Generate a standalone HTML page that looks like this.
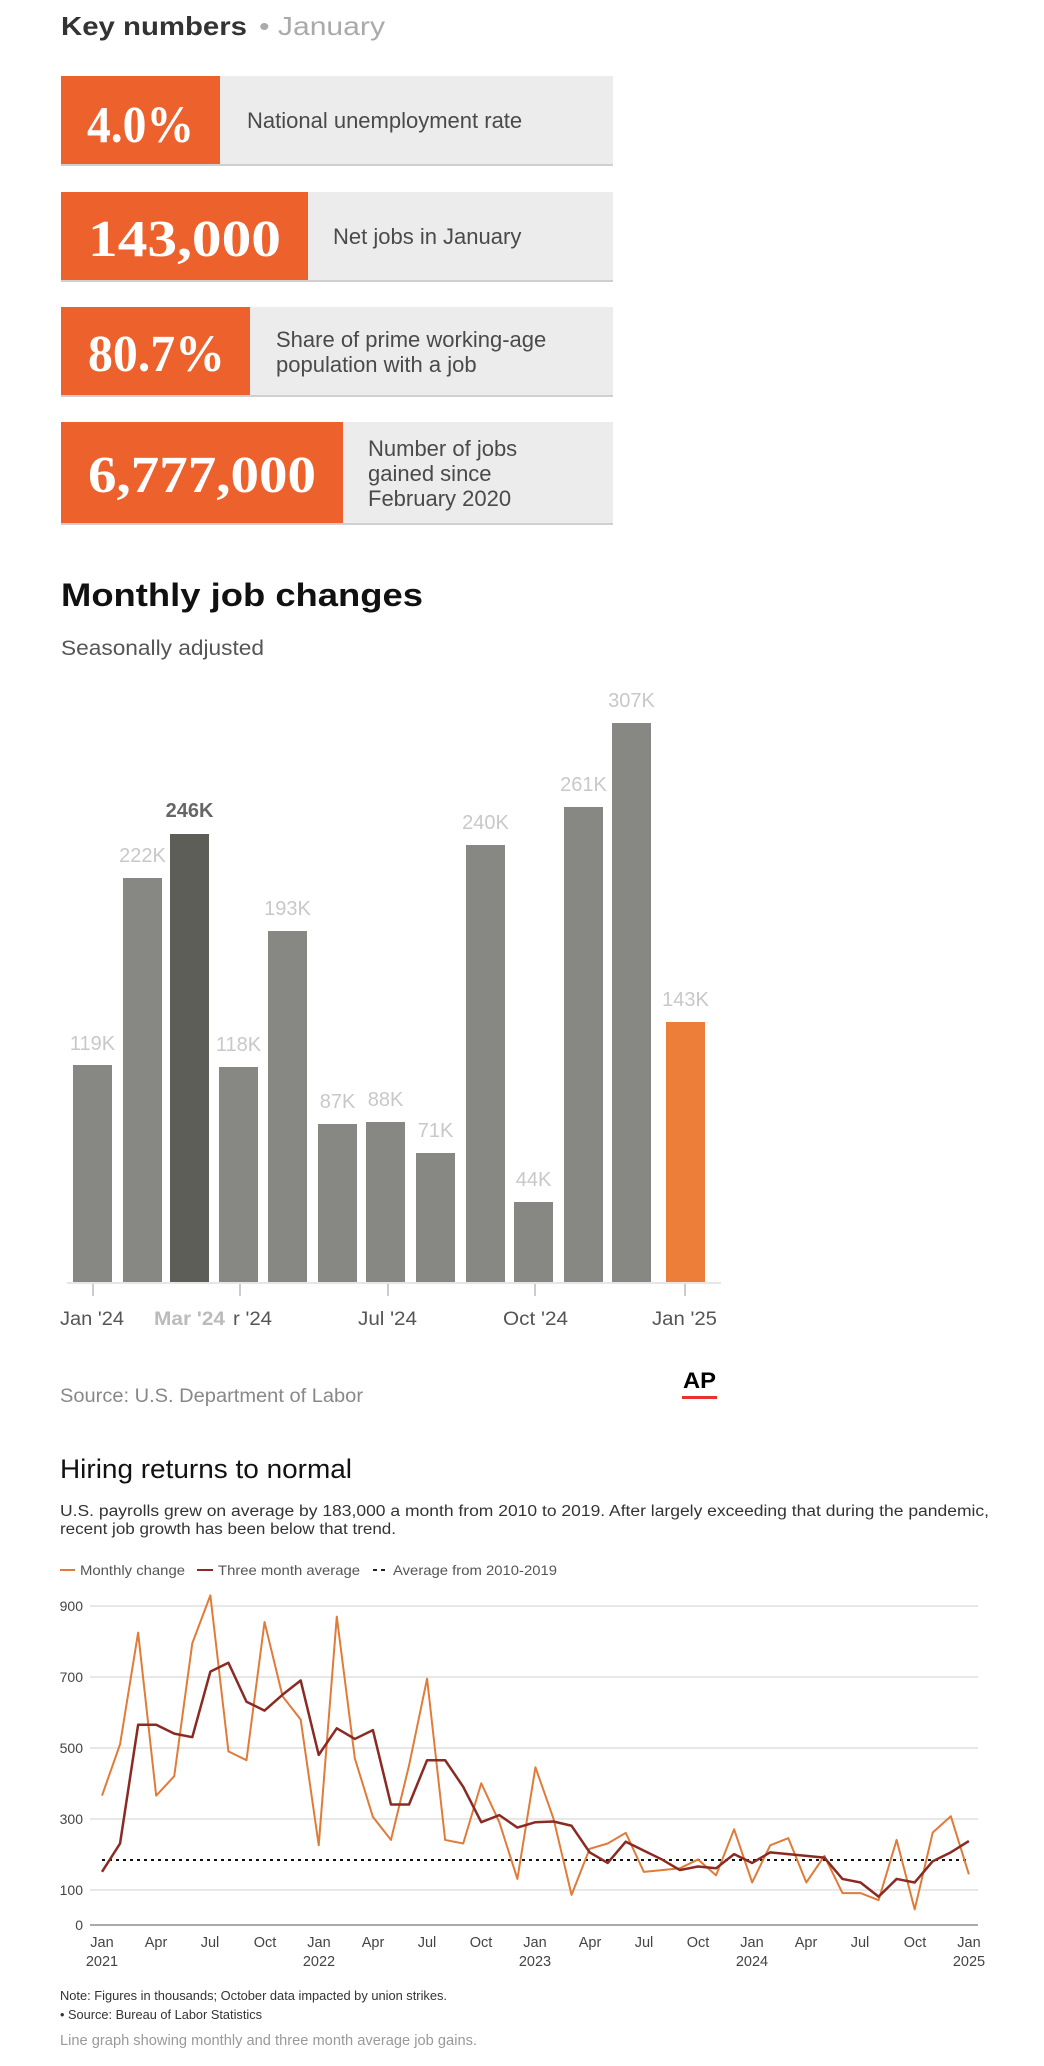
<!DOCTYPE html>
<html><head><meta charset="utf-8"><style>html,body{margin:0;padding:0;background:#fff}svg{display:block}</style></head>
<body>
<svg width="1044" height="2066" viewBox="0 0 1044 2066" xmlns="http://www.w3.org/2000/svg" font-family="Liberation Sans, sans-serif">
<rect width="1044" height="2066" fill="#fff"/>
<!-- Key numbers -->
<text x="61" y="35" font-size="26" font-weight="bold" fill="#333" textLength="186" lengthAdjust="spacingAndGlyphs">Key numbers</text>
<text x="259" y="35" font-size="26" fill="#aaa" textLength="126" lengthAdjust="spacingAndGlyphs">• January</text>

<g>
<rect x="61" y="76" width="552" height="89" fill="#ececec"/><rect x="61" y="164" width="552" height="2" fill="#cfcfcf"/>
<rect x="61" y="76" width="159" height="88" fill="#ec612c"/>
<text x="87" y="142" font-family="Liberation Serif, serif" font-weight="bold" font-size="52" fill="#fff" textLength="107" lengthAdjust="spacingAndGlyphs">4.0%</text>
<text x="247" y="128" font-size="22" fill="#4a4a4a">National unemployment rate</text>

<rect x="61" y="192" width="552" height="89" fill="#ececec"/><rect x="61" y="280" width="552" height="2" fill="#cfcfcf"/>
<rect x="61" y="192" width="247" height="88" fill="#ec612c"/>
<text x="88" y="256" font-family="Liberation Serif, serif" font-weight="bold" font-size="52" fill="#fff" textLength="193" lengthAdjust="spacingAndGlyphs">143,000</text>
<text x="333" y="244" font-size="22" fill="#4a4a4a">Net jobs in January</text>

<rect x="61" y="307" width="552" height="89" fill="#ececec"/><rect x="61" y="395" width="552" height="2" fill="#cfcfcf"/>
<rect x="61" y="307" width="189" height="88" fill="#ec612c"/>
<text x="88" y="371" font-family="Liberation Serif, serif" font-weight="bold" font-size="52" fill="#fff" textLength="137" lengthAdjust="spacingAndGlyphs">80.7%</text>
<text x="276" y="347" font-size="22" fill="#4a4a4a">Share of prime working-age</text>
<text x="276" y="372" font-size="22" fill="#4a4a4a">population with a job</text>

<rect x="61" y="422" width="552" height="102" fill="#ececec"/><rect x="61" y="523" width="552" height="2" fill="#cfcfcf"/>
<rect x="61" y="422" width="282" height="101" fill="#ec612c"/>
<text x="88" y="492" font-family="Liberation Serif, serif" font-weight="bold" font-size="52" fill="#fff" textLength="228" lengthAdjust="spacingAndGlyphs">6,777,000</text>
<text x="368" y="456" font-size="22" fill="#4a4a4a">Number of jobs</text>
<text x="368" y="481" font-size="22" fill="#4a4a4a">gained since</text>
<text x="368" y="506" font-size="22" fill="#4a4a4a">February 2020</text>
</g>

<!-- Monthly job changes -->
<text x="61" y="606" font-size="32" font-weight="bold" fill="#111" textLength="362" lengthAdjust="spacingAndGlyphs">Monthly job changes</text>
<text x="61" y="655" font-size="21" fill="#555" textLength="203" lengthAdjust="spacingAndGlyphs">Seasonally adjusted</text>

<g font-size="20" fill="#c8c8c8" text-anchor="middle">
<rect x="73" y="1065" width="39" height="217" fill="#878883"/><text x="92.5" y="1050">119K</text>
<rect x="123" y="878" width="39" height="404" fill="#878883"/><text x="142.5" y="862">222K</text>
<rect x="170" y="834" width="39" height="448" fill="#5d5e58"/><text x="189.5" y="817" font-weight="bold" fill="#666">246K</text>
<rect x="219" y="1067" width="39" height="215" fill="#878883"/><text x="238.5" y="1051">118K</text>
<rect x="268" y="931" width="39" height="351" fill="#878883"/><text x="287.5" y="915">193K</text>
<rect x="318" y="1124" width="39" height="158" fill="#878883"/><text x="337.5" y="1108">87K</text>
<rect x="366" y="1122" width="39" height="160" fill="#878883"/><text x="385.5" y="1106">88K</text>
<rect x="416" y="1153" width="39" height="129" fill="#878883"/><text x="435.5" y="1137">71K</text>
<rect x="466" y="845" width="39" height="437" fill="#878883"/><text x="485.5" y="829">240K</text>
<rect x="514" y="1202" width="39" height="80" fill="#878883"/><text x="533.5" y="1186">44K</text>
<rect x="564" y="807" width="39" height="475" fill="#878883"/><text x="583.5" y="791">261K</text>
<rect x="612" y="723" width="39" height="559" fill="#878883"/><text x="631.5" y="707">307K</text>
<rect x="666" y="1022" width="39" height="260" fill="#ec7e3a"/><text x="685.5" y="1006">143K</text>
</g>
<rect x="67" y="1282" width="654" height="2" fill="#e6e6e6"/>
<g stroke="#bbb" stroke-width="1.5">
<line x1="93" y1="1284" x2="93" y2="1296"/><line x1="240" y1="1284" x2="240" y2="1296"/><line x1="388" y1="1284" x2="388" y2="1296"/><line x1="535" y1="1284" x2="535" y2="1296"/><line x1="685" y1="1284" x2="685" y2="1296"/>
</g>
<g font-size="19" fill="#555">
<text x="60" y="1325" textLength="64" lengthAdjust="spacingAndGlyphs">Jan '24</text>
<text x="154" y="1325" font-weight="bold" fill="#bbb" textLength="71" lengthAdjust="spacingAndGlyphs">Mar '24</text>
<text x="233" y="1325" textLength="39" lengthAdjust="spacingAndGlyphs">r '24</text>
<text x="358" y="1325" textLength="59" lengthAdjust="spacingAndGlyphs">Jul '24</text>
<text x="503" y="1325" textLength="65" lengthAdjust="spacingAndGlyphs">Oct '24</text>
<text x="652" y="1325" textLength="65" lengthAdjust="spacingAndGlyphs">Jan '25</text>
</g>
<text x="60" y="1402" font-size="19" fill="#888" textLength="303" lengthAdjust="spacingAndGlyphs">Source: U.S. Department of Labor</text>
<text x="683" y="1388" font-size="22" font-weight="bold" fill="#000" textLength="33" lengthAdjust="spacingAndGlyphs">AP</text>
<rect x="682" y="1396" width="35" height="3" fill="#e8322b"/>

<!-- Hiring returns to normal -->
<text x="60" y="1478" font-size="27" fill="#111" textLength="292" lengthAdjust="spacingAndGlyphs">Hiring returns to normal</text>
<text x="60" y="1516" font-size="15.5" fill="#333" textLength="929" lengthAdjust="spacingAndGlyphs">U.S. payrolls grew on average by 183,000 a month from 2010 to 2019. After largely exceeding that during the pandemic,</text>
<text x="60" y="1534" font-size="15.5" fill="#333" textLength="336" lengthAdjust="spacingAndGlyphs">recent job growth has been below that trend.</text>

<g font-size="14" fill="#555">
<line x1="60" y1="1570" x2="75" y2="1570" stroke="#e07b39" stroke-width="2"/>
<text x="80" y="1575" textLength="105" lengthAdjust="spacingAndGlyphs">Monthly change</text>
<line x1="197" y1="1570" x2="213" y2="1570" stroke="#8b2a22" stroke-width="2"/>
<text x="218" y="1575" textLength="142" lengthAdjust="spacingAndGlyphs">Three month average</text>
<line x1="373" y1="1570" x2="388" y2="1570" stroke="#222" stroke-width="2" stroke-dasharray="4,4"/>
<text x="393" y="1575" textLength="164" lengthAdjust="spacingAndGlyphs">Average from 2010-2019</text>
</g>

<g stroke="#e0e0e0" stroke-width="1.5">
<line x1="90" y1="1606" x2="978" y2="1606"/>
<line x1="90" y1="1677" x2="978" y2="1677"/>
<line x1="90" y1="1748" x2="978" y2="1748"/>
<line x1="90" y1="1819" x2="978" y2="1819"/>
<line x1="90" y1="1890" x2="978" y2="1890"/>
</g>
<line x1="90" y1="1925" x2="978" y2="1925" stroke="#aaa" stroke-width="2"/>
<g font-size="14" fill="#444" text-anchor="end">
<text x="83" y="1611">900</text><text x="83" y="1682">700</text><text x="83" y="1753">500</text><text x="83" y="1824">300</text><text x="83" y="1895">100</text><text x="83" y="1930">0</text>
</g>

<line x1="102" y1="1860" x2="969" y2="1860" stroke="#111" stroke-width="2" stroke-dasharray="3,4"/>

<g transform="translate(102,1925) scale(18.06,-0.3544)" fill="none" stroke-linejoin="round">
<polyline vector-effect="non-scaling-stroke" stroke="#e07b39" stroke-width="2" points="0,365 1,510 2,825 3,365 4,420 5,795 6,930 7,490 8,465 9,855 10,645 11,580 12,225 13,870 14,470 15,305 16,240 17,450 18,695 19,240 20,230 21,400 22,290 23,130 24,445 25,300 26,85 27,215 28,230 29,260 30,150 31,155 32,160 33,185 34,140 35,270 36,120 37,225 38,245 39,120 40,195 41,90 42,90 43,70 44,240 45,44 46,261 47,307 48,143"/>
<polyline vector-effect="non-scaling-stroke" stroke="#8b2a22" stroke-width="2.5" points="0,150 1,230 2,565 3,565 4,540 5,530 6,715 7,740 8,630 9,605 10,650 11,690 12,480 13,555 14,525 15,550 16,340 17,340 18,465 19,465 20,390 21,290 22,310 23,275 24,290 25,292 26,280 27,205 28,175 29,235 30,210 31,185 32,155 33,165 34,160 35,200 36,175 37,205 38,200 39,195 40,190 41,130 42,120 43,80 44,130 45,120 46,180 47,205 48,237"/>
</g>

<g font-size="14.5" fill="#444" text-anchor="middle">
<text x="102" y="1947">Jan</text><text x="102" y="1966">2021</text>
<text x="156" y="1947">Apr</text><text x="210" y="1947">Jul</text><text x="265" y="1947">Oct</text>
<text x="319" y="1947">Jan</text><text x="319" y="1966">2022</text>
<text x="373" y="1947">Apr</text><text x="427" y="1947">Jul</text><text x="481" y="1947">Oct</text>
<text x="535" y="1947">Jan</text><text x="535" y="1966">2023</text>
<text x="590" y="1947">Apr</text><text x="644" y="1947">Jul</text><text x="698" y="1947">Oct</text>
<text x="752" y="1947">Jan</text><text x="752" y="1966">2024</text>
<text x="806" y="1947">Apr</text><text x="860" y="1947">Jul</text><text x="915" y="1947">Oct</text>
<text x="969" y="1947">Jan</text><text x="969" y="1966">2025</text>
</g>

<text x="60" y="2000" font-size="12.5" fill="#333" textLength="387" lengthAdjust="spacingAndGlyphs">Note: Figures in thousands; October data impacted by union strikes.</text>
<text x="60" y="2019" font-size="12.5" fill="#333" textLength="202" lengthAdjust="spacingAndGlyphs">• Source: Bureau of Labor Statistics</text>
<text x="60" y="2045" font-size="14.5" fill="#999" textLength="417" lengthAdjust="spacingAndGlyphs">Line graph showing monthly and three month average job gains.</text>
</svg>
</body></html>
